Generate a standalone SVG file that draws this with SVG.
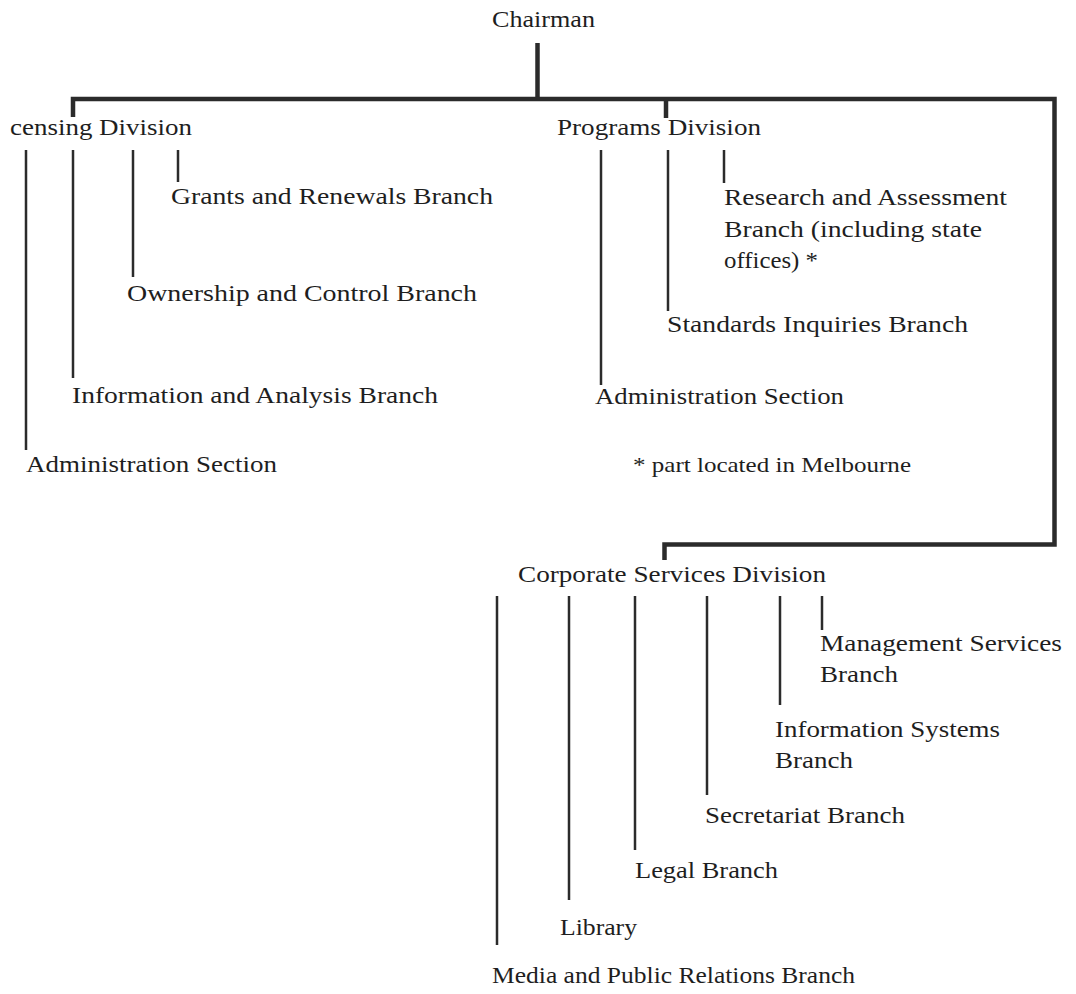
<svg xmlns="http://www.w3.org/2000/svg" width="1076" height="994" viewBox="0 0 1076 994">
<style>
.t{font-family:"Liberation Serif","Times New Roman",serif;font-size:23.5px;fill:#1e1e1e}
.s{font-size:22px}
.trunk{fill:none;stroke:#2b2b2b;stroke-width:4.5;stroke-linejoin:miter;stroke-linecap:butt}
.br{fill:none;stroke:#2b2b2b;stroke-width:2.5}
</style>
<rect width="1076" height="994" fill="#ffffff"/>
<g id="connectors">
<path class="trunk" d="M537.5,43 V99"/>
<path class="trunk" d="M73,117 V99 H1054.5 V544.5 H664.5 V560"/>
<path class="trunk" d="M666,99 V118"/>
<path class="br" d="M26,150 V450"/>
<path class="br" d="M73,150 V378"/>
<path class="br" d="M133,150 V277"/>
<path class="br" d="M178,150 V182"/>
<path class="br" d="M601,150 V385"/>
<path class="br" d="M668,150 V311"/>
<path class="br" d="M724,150 V183"/>
<path class="br" d="M497,596 V945"/>
<path class="br" d="M569,596 V900"/>
<path class="br" d="M635,596 V850"/>
<path class="br" d="M707,596 V795"/>
<path class="br" d="M780,596 V705"/>
<path class="br" d="M822,596 V630"/>
</g>
<g id="chairman"><text class="t" x="492" y="27" textLength="103" lengthAdjust="spacingAndGlyphs">Chairman</text></g>
<g id="licensing"><text class="t" x="10" y="135" textLength="182" lengthAdjust="spacingAndGlyphs">censing Division</text></g>
<g id="grants"><text class="t" x="171" y="204" textLength="322" lengthAdjust="spacingAndGlyphs">Grants and Renewals Branch</text></g>
<g id="ownership"><text class="t" x="127" y="301" textLength="350" lengthAdjust="spacingAndGlyphs">Ownership and Control Branch</text></g>
<g id="information-analysis"><text class="t" x="72" y="403" textLength="366" lengthAdjust="spacingAndGlyphs">Information and Analysis Branch</text></g>
<g id="admin-licensing"><text class="t" x="26" y="472" textLength="251" lengthAdjust="spacingAndGlyphs">Administration Section</text></g>
<g id="programs"><text class="t" x="557" y="135" textLength="204" lengthAdjust="spacingAndGlyphs">Programs Division</text></g>
<g id="research">
<text class="t" x="724" y="205" textLength="283" lengthAdjust="spacingAndGlyphs">Research and Assessment</text>
<text class="t" x="724" y="237" textLength="258" lengthAdjust="spacingAndGlyphs">Branch (including state</text>
<text class="t" x="724" y="268" textLength="94" lengthAdjust="spacingAndGlyphs">offices) *</text>
</g>
<g id="standards"><text class="t" x="667" y="332" textLength="301" lengthAdjust="spacingAndGlyphs">Standards Inquiries Branch</text></g>
<g id="admin-programs"><text class="t" x="595" y="404" textLength="249" lengthAdjust="spacingAndGlyphs">Administration Section</text></g>
<g id="note"><text class="t s" x="633" y="472" textLength="278" lengthAdjust="spacingAndGlyphs">* part located in Melbourne</text></g>
<g id="corporate"><text class="t" x="518" y="582" textLength="308" lengthAdjust="spacingAndGlyphs">Corporate Services Division</text></g>
<g id="management">
<text class="t" x="820" y="651" textLength="242" lengthAdjust="spacingAndGlyphs">Management Services</text>
<text class="t" x="820" y="682" textLength="78" lengthAdjust="spacingAndGlyphs">Branch</text>
</g>
<g id="info-systems">
<text class="t" x="775" y="737" textLength="225" lengthAdjust="spacingAndGlyphs">Information Systems</text>
<text class="t" x="775" y="768" textLength="78" lengthAdjust="spacingAndGlyphs">Branch</text>
</g>
<g id="secretariat"><text class="t" x="705" y="823" textLength="200" lengthAdjust="spacingAndGlyphs">Secretariat Branch</text></g>
<g id="legal"><text class="t" x="635" y="878" textLength="143" lengthAdjust="spacingAndGlyphs">Legal Branch</text></g>
<g id="library"><text class="t" x="560" y="935" textLength="77" lengthAdjust="spacingAndGlyphs">Library</text></g>
<g id="media"><text class="t" x="492" y="983" textLength="363" lengthAdjust="spacingAndGlyphs">Media and Public Relations Branch</text></g>
</svg>
